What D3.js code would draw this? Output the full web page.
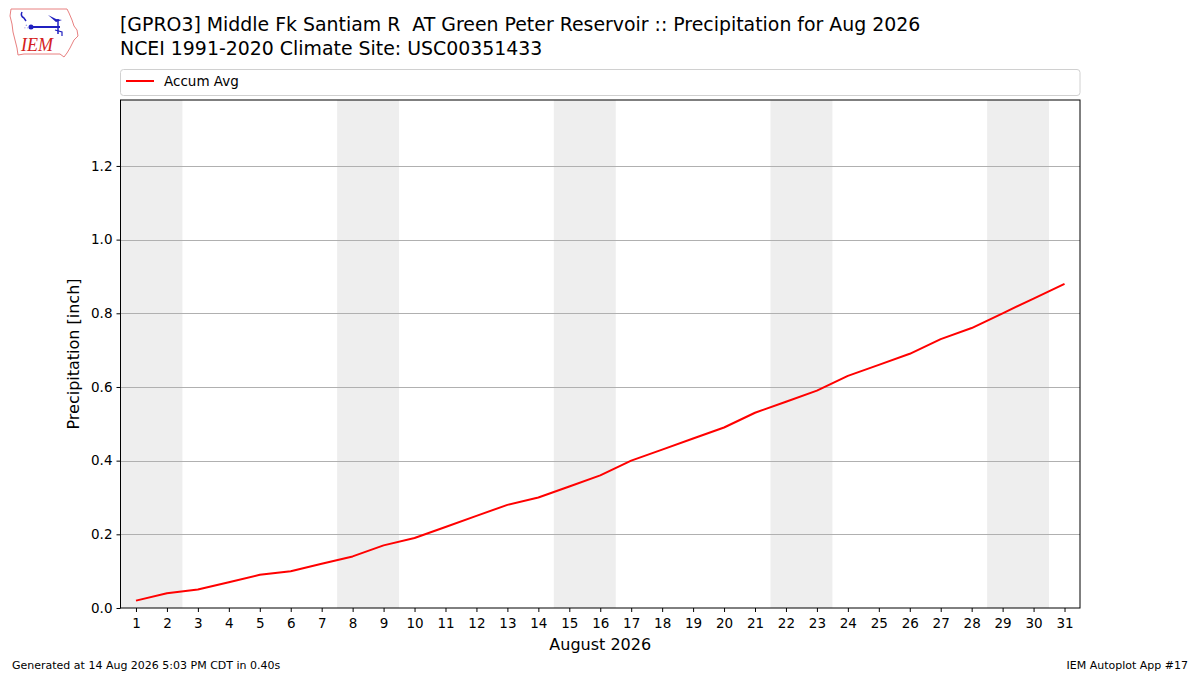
<!DOCTYPE html>
<html>
<head>
<meta charset="utf-8">
<script src="https://cdn.jsdelivr.net/npm/d3@7"></script>
<style>
  html, body { margin: 0; padding: 0; background: #fff; }
  svg { display: block; font-family: "DejaVu Sans", sans-serif; }
  text.title { white-space: pre; }
</style>
</head>
<body>
<svg id="chart" width="1200" height="675"></svg>
<script>
// ---- data ----
const days = d3.range(1, 32);
const accumAvg = [0.02, 0.04, 0.05, 0.07, 0.09, 0.10, 0.12, 0.14, 0.17, 0.19,
                  0.22, 0.25, 0.28, 0.30, 0.33, 0.36, 0.40, 0.43, 0.46, 0.49,
                  0.53, 0.56, 0.59, 0.63, 0.66, 0.69, 0.73, 0.76, 0.80, 0.84, 0.88];
const weekendBands = [[1, 2], [8, 9], [15, 16], [22, 23], [29, 30]];
const yTicks = [0.0, 0.2, 0.4, 0.6, 0.8, 1.0, 1.2];
const titleLines = ["[GPRO3] Middle Fk Santiam R  AT Green Peter Reservoir :: Precipitation for Aug 2026",
                    "NCEI 1991-2020 Climate Site: USC00351433"];
const seriesName = "Accum Avg";
const xLabel = "August 2026";
const yLabel = "Precipitation [inch]";
const footerLeft = "Generated at 14 Aug 2026 5:03 PM CDT in 0.40s";
const footerRight = "IEM Autoplot App #17";

// ---- layout ----
const svg = d3.select("#chart");
const L = 120.5, R = 1080, T = 100, B = 608;
const x = d3.scaleLinear().domain([0.5, 31.5]).range([L, R]);
const y = d3.scaleLinear().domain([0, 1.379]).range([B, T]);

// weekend bands
svg.append("g").selectAll("rect").data(weekendBands).join("rect")
  .attr("x", d => x(d[0] - 0.5))
  .attr("width", d => x(d[1] + 0.5) - x(d[0] - 0.5))
  .attr("y", T).attr("height", B - T)
  .attr("fill", "#eeeeee");

// grid
svg.append("g").selectAll("line").data(yTicks.filter(v => v > 0)).join("line")
  .attr("x1", L).attr("x2", R)
  .attr("y1", d => Math.round(y(d)) + 0.5).attr("y2", d => Math.round(y(d)) + 0.5)
  .attr("stroke", "#b0b0b0").attr("stroke-width", 1);

// line
svg.append("path")
  .datum(days.map((d, i) => [d, accumAvg[i]]))
  .attr("fill", "none").attr("stroke", "#ff0000").attr("stroke-width", 2)
  .attr("stroke-linejoin", "round")
  .attr("d", d3.line().x(d => x(d[0])).y(d => y(d[1])));

// frame
svg.append("rect").attr("x", L).attr("y", T).attr("width", R - L).attr("height", B - T)
  .attr("fill", "none").attr("stroke", "#000").attr("stroke-width", 1);

// axes
const xAxis = svg.append("g").attr("transform", `translate(0,${B})`)
  .call(d3.axisBottom(x).tickValues(days).tickFormat(d3.format("d")).tickSize(4).tickPadding(4));
const yAxis = svg.append("g").attr("transform", `translate(${L},0)`)
  .call(d3.axisLeft(y).tickValues(yTicks).tickFormat(d3.format(".1f")).tickSize(4).tickPadding(4));
[xAxis, yAxis].forEach(a => {
  a.select(".domain").remove();
  a.selectAll("text").attr("font-size", 13.5).attr("fill", "#000")
    .attr("font-family", "DejaVu Sans, sans-serif");
  a.selectAll("line").attr("stroke", "#000");
});
xAxis.selectAll("text").attr("dy", "0.9em");

// axis labels
svg.append("text").attr("x", (L + R) / 2).attr("y", 650).attr("text-anchor", "middle")
  .attr("font-size", 16).text(xLabel);
svg.append("text").attr("transform", `translate(79,${(T + B) / 2}) rotate(-90)`)
  .attr("text-anchor", "middle").attr("font-size", 16).text(yLabel);

// titles
svg.selectAll("text.title").data(titleLines).join("text").attr("class", "title")
  .attr("xml:space", "preserve")
  .attr("x", 120).attr("y", (d, i) => 31 + i * 24).attr("font-size", 18.9).text(d => d);

// legend
svg.append("rect").attr("x", 120.5).attr("y", 69.5).attr("width", 959.5).attr("height", 26)
  .attr("rx", 3).attr("fill", "#fff").attr("stroke", "#d0d0d0");
svg.append("line").attr("x1", 126).attr("x2", 154).attr("y1", 81).attr("y2", 81)
  .attr("stroke", "#ff0000").attr("stroke-width", 2);
svg.append("text").attr("x", 164).attr("y", 86).attr("font-size", 13.5).text(seriesName);

// footer
svg.append("text").attr("x", 12).attr("y", 669).attr("font-size", 11).text(footerLeft);
svg.append("text").attr("x", 1188).attr("y", 669).attr("text-anchor", "end").attr("font-size", 11).text(footerRight);

// logo
const logo = svg.append("g");
logo.append("path")
  .attr("d", "M11,9 L67,9 L69,13 L72,20 L74,26 L77,30 L78,36 L74,40 L72,44 L70,48 L67,53 L64,57 L60,54 L24,54 L18,55 L17,48 L15,40 L13,32 L12,24 L10,16 Z")
  .attr("fill", "none").attr("stroke", "#e88080").attr("stroke-width", 1);
logo.append("path").attr("d", "M22,12 Q20,16 24,18 L26,21")
  .attr("fill", "none").attr("stroke", "#2020c0").attr("stroke-width", 1.5);
logo.append("line").attr("x1", 31).attr("x2", 60).attr("y1", 27).attr("y2", 27)
  .attr("stroke", "#2020c0").attr("stroke-width", 2);
logo.append("circle").attr("cx", 31).attr("cy", 27).attr("r", 2.5).attr("fill", "#2020c0");
logo.append("path").attr("d", "M48,15 L56,19 L62,20 L56,22 Z").attr("fill", "#2020c0");
logo.append("line").attr("x1", 58).attr("x2", 58).attr("y1", 19).attr("y2", 34)
  .attr("stroke", "#2020c0").attr("stroke-width", 1.5);
logo.append("path").attr("d", "M55,30 L62,32 L62,36").attr("fill", "none")
  .attr("stroke", "#2020c0").attr("stroke-width", 1.2);
logo.append("text").attr("x", 24).attr("y", 29).attr("font-size", 7).attr("fill", "#2020c0").text("∴");
logo.append("text").attr("x", 21).attr("y", 51).attr("font-size", 18)
  .attr("font-family", "Liberation Serif, serif").attr("font-style", "italic")
  .attr("fill", "#d42020").text("IEM");
</script>
</body>
</html>
